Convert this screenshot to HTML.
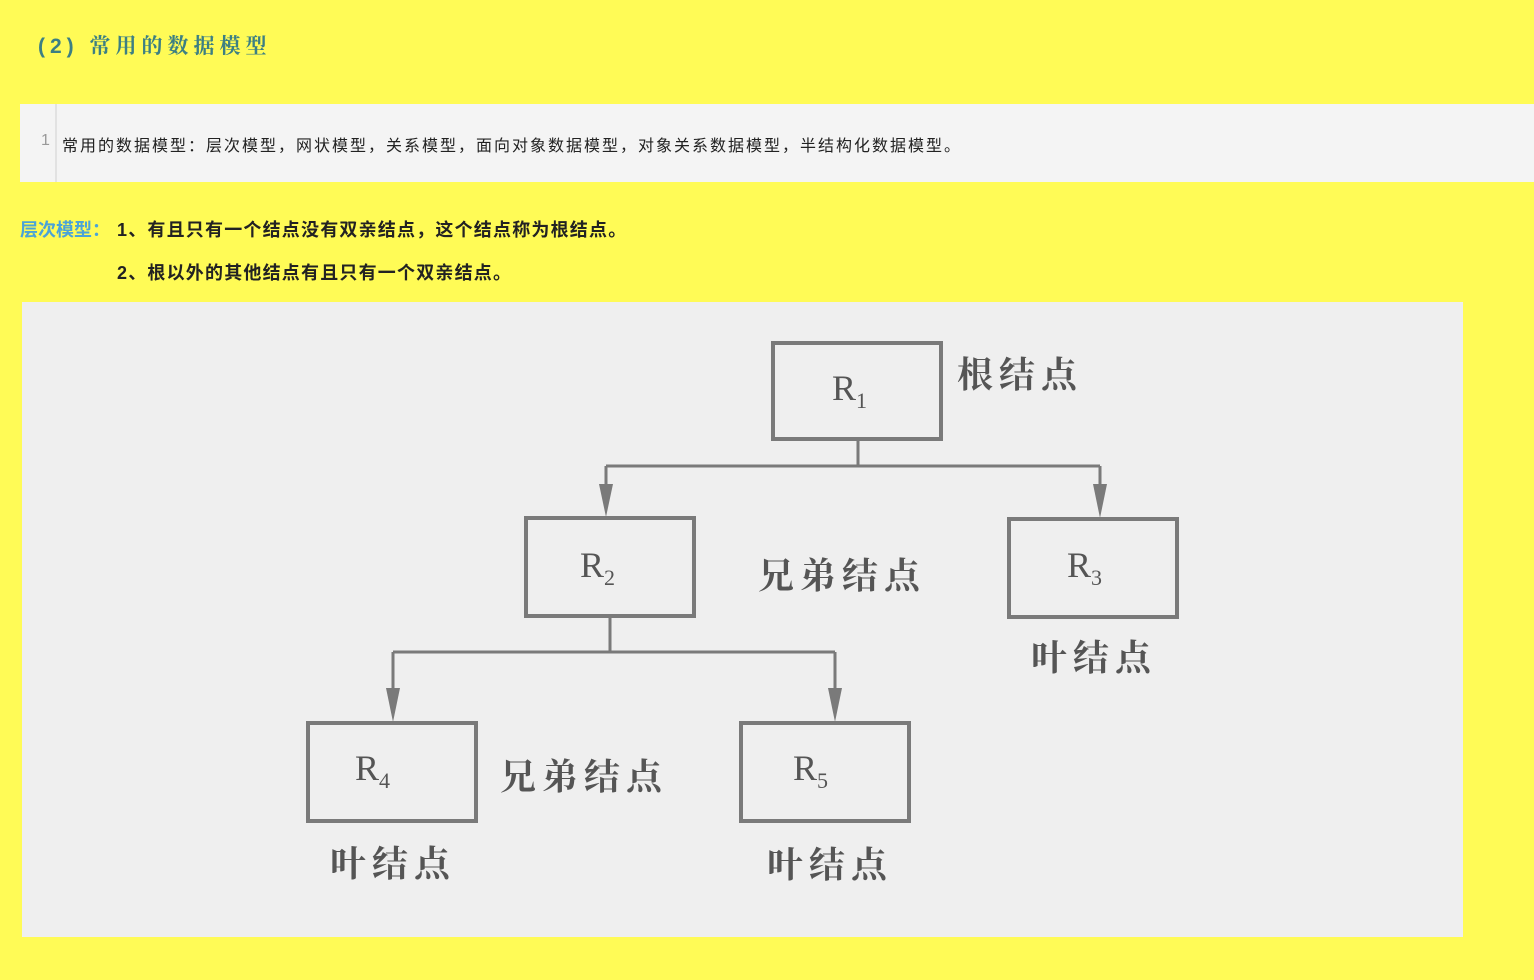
<!DOCTYPE html>
<html><head><meta charset="utf-8"><style>
body{margin:0;width:1534px;height:980px;background:#fffb56;position:relative;overflow:hidden;font-family:"Liberation Sans","Noto Sans CJK SC",sans-serif}
.a{position:absolute;white-space:nowrap}
</style></head><body>
<div class="a" style="left:38px;top:30px;font-size:21px;color:#3c7f83;font-weight:bold;font-family:'Liberation Sans','Noto Serif CJK SC',serif;letter-spacing:5px">(2) 常用的数据模型</div>
<div class="a" style="left:20px;top:104px;width:1514px;height:78px;background:#f4f4f4"></div>
<div class="a" style="left:55px;top:104px;width:2px;height:78px;background:#e2e2e2"></div>
<div class="a" style="left:41px;top:132px;font-size:16px;color:#999">1</div>
<div class="a" style="left:62px;top:132px;font-size:16px;color:#222;letter-spacing:2px">常用的数据模型：层次模型，网状模型，关系模型，面向对象数据模型，对象关系数据模型，半结构化数据模型。</div>
<div class="a" style="left:20px;top:216px;font-size:18px;font-weight:bold;color:#4aa3d8">层次模型：</div>
<div class="a" style="left:117px;top:216px;font-size:18px;font-weight:bold;color:#222;letter-spacing:1.2px">1、有且只有一个结点没有双亲结点，这个结点称为根结点。</div>
<div class="a" style="left:117px;top:259px;font-size:18px;font-weight:bold;color:#222;letter-spacing:1.2px">2、根以外的其他结点有且只有一个双亲结点。</div>
<svg class="a" style="left:22px;top:302px" width="1441" height="635" viewBox="22 302 1441 635">
<rect x="22" y="302" width="1441" height="635" fill="#efefef"/>
<g fill="none" stroke="#7a7a7a" stroke-width="4">
<rect x="773" y="343" width="168" height="96"/>
<rect x="526" y="518" width="168" height="98"/>
<rect x="1009" y="519" width="168" height="98"/>
<rect x="308" y="723" width="168" height="98"/>
<rect x="741" y="723" width="168" height="98"/>
</g>
<g fill="none" stroke="#7a7a7a" stroke-width="3">
<path d="M858 441V466M606 466H1100M606 466V500M1100 466V500"/>
<path d="M610 618V652M393 652H835M393 652V704M835 652V704"/>
</g>
<g fill="#7a7a7a">
<path d="M599 484L606 517L613 484Z"/><path d="M1093 484L1100 518L1107 484Z"/>
<path d="M386 688L393 722L400 688Z"/><path d="M828 688L835 722L842 688Z"/>
</g>
<g font-family="Liberation Serif,serif" font-size="36" fill="#555">
<text x="832" y="400">R<tspan font-size="22" dy="8">1</tspan></text>
<text x="580" y="577">R<tspan font-size="22" dy="8">2</tspan></text>
<text x="1067" y="577">R<tspan font-size="22" dy="8">3</tspan></text>
<text x="355" y="780">R<tspan font-size="22" dy="8">4</tspan></text>
<text x="793" y="780">R<tspan font-size="22" dy="8">5</tspan></text>
</g>
<g font-family="Noto Serif CJK SC,serif" font-weight="bold" font-size="36" fill="#555" letter-spacing="6">
<text x="957" y="387">根结点</text>
<text x="758" y="588">兄弟结点</text>
<text x="1031" y="670">叶结点</text>
<text x="500" y="789">兄弟结点</text>
<text x="330" y="876">叶结点</text>
<text x="767" y="877">叶结点</text>
</g>
</svg>
</body></html>
